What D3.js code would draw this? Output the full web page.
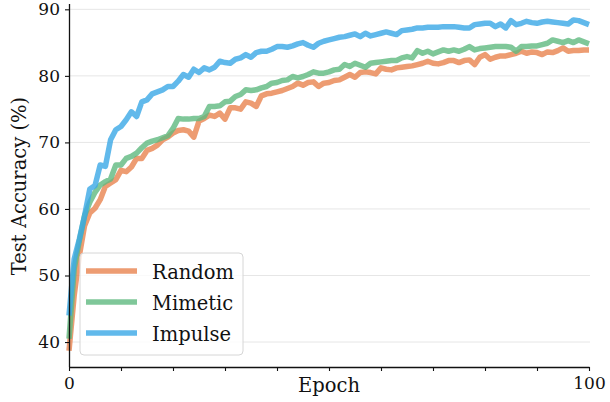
<!DOCTYPE html>
<html>
<head>
<meta charset="utf-8">
<script src="https://cdn.jsdelivr.net/npm/d3@7"></script>
<style>
  body { margin: 0; background: #fff; }
  text { font-family: "DejaVu Serif", serif; fill: #111; }
</style>
</head>
<body>
<svg></svg>
<script>
// accuracy per epoch (0..100)
var epochs = d3.range(0, 101);

var randomAcc = [
  38.7, 47.0, 53.0, 57.5, 59.4, 60.1, 61.4, 63.4, 63.9, 64.4,
  65.8, 65.6, 66.3, 67.6, 67.6, 68.8, 69.1, 69.6, 70.4, 70.8,
  71.4, 71.8, 71.9, 71.7, 70.8, 73.2, 73.6, 74.1, 73.9, 74.4,
  73.5, 75.2, 75.2, 75.0, 76.1, 75.9, 75.4, 77.0, 77.3, 77.4,
  77.6, 77.8, 78.1, 78.4, 78.9, 78.6, 79.0, 79.1, 78.4, 78.9,
  79.0, 79.3, 79.4, 79.8, 80.2, 79.8, 80.5, 80.6, 80.5, 80.3,
  81.2, 81.0, 80.9, 81.2, 81.3, 81.4, 81.5, 81.7, 81.9, 82.2,
  81.9, 81.8, 82.0, 82.3, 82.3, 82.0, 82.3, 82.4, 81.7, 82.8,
  83.2, 82.5, 82.8, 83.0, 83.0, 83.2, 83.4, 83.7, 83.4, 83.6,
  83.5, 83.2, 83.6, 83.5, 83.8, 84.2, 83.7, 83.8, 83.8, 83.9,
  83.9
];

var mimeticAcc = [
  40.5, 51.0, 55.3, 59.0, 61.0, 62.5, 63.6, 64.1, 64.5, 66.6,
  66.6, 67.6, 67.9, 68.4, 69.2, 69.9, 70.2, 70.4, 70.7, 71.0,
  72.1, 73.6, 73.5, 73.5, 73.6, 73.6, 73.9, 75.4, 75.4, 75.5,
  76.1, 76.2, 76.9, 77.2, 77.9, 77.8, 77.9, 78.2, 78.4, 78.9,
  79.0, 79.3, 79.4, 79.9, 79.7, 79.9, 80.2, 80.6, 80.4, 80.4,
  80.6, 80.9, 81.0, 81.7, 81.4, 81.9, 81.6, 81.3, 81.9, 82.0,
  82.1, 82.2, 82.3, 82.3, 82.7, 82.9, 82.7, 83.8, 83.4, 83.7,
  83.3, 83.6, 83.9, 83.7, 83.9, 83.7, 84.0, 84.4, 83.9, 84.1,
  84.2, 84.3, 84.4, 84.4, 84.4, 84.3, 83.7, 84.4, 84.4, 84.5,
  84.5, 84.7, 84.9, 85.4, 85.2, 85.0, 85.3, 85.0, 85.4, 85.1,
  84.8
];

var impulseAcc = [
  44.0, 52.5, 55.5, 59.0, 63.0, 63.5, 66.6, 66.4, 70.4, 71.9,
  72.4, 73.4, 74.6, 73.9, 76.1, 76.4, 77.3, 77.6, 77.9, 78.4,
  78.4, 79.2, 80.2, 79.8, 81.0, 80.5, 81.2, 80.9, 81.3, 82.2,
  82.0, 81.9, 82.5, 82.7, 83.2, 82.8, 83.5, 83.7, 83.7, 84.0,
  84.4, 84.4, 84.3, 84.5, 84.8, 85.0, 84.6, 84.3, 84.9, 85.2,
  85.4, 85.6, 85.8, 85.9, 86.1, 86.3, 85.9, 86.4, 86.0, 86.2,
  86.4, 86.6, 86.4, 86.2, 86.8, 86.9, 87.0, 87.2, 87.2, 87.3,
  87.3, 87.3, 87.4, 87.4, 87.4, 87.3, 87.2, 87.2, 87.7, 87.8,
  87.9, 87.9, 87.4, 87.8, 87.2, 88.3, 87.7, 87.9, 88.2, 88.0,
  87.9, 88.1, 88.2, 88.1, 88.0, 87.9, 87.8, 88.4, 88.3, 88.0,
  87.7
];

var seriesNames = ["Random", "Mimetic", "Impulse"];
var seriesColors = ["#e8834f", "#5fb97f", "#3aa8e6"];
var yTicks = [40, 50, 60, 70, 80, 90];
var xTicks = [0, 10, 20, 30, 40, 50, 60, 70, 80, 90, 100];
var xTickLabels = ["0", "", "", "", "", "", "", "", "", "", "100"];

var drawGraph = function(){
  var screen = { width: 610, height: 402 };
  var margins = { top: 4, bottom: 35, left: 69, right: 21 };

  var graphWidth = screen.width - margins.left - margins.right;
  var graphHeight = screen.height - margins.top - margins.bottom;

  var xScale = d3.scaleLinear()
                .domain([0, 100])
                .range([0, graphWidth]);

  var yScale = d3.scaleLinear()
                .domain([36.25, 90.8])
                .range([graphHeight, 0]);

  var svg = d3.select("svg")
            .attr("width", screen.width)
            .attr("height", screen.height);

  var plotLand = svg.append("g")
                    .attr("transform", "translate(" + margins.left + "," + margins.top + ")");

  // grid
  plotLand.append("g")
          .selectAll("line")
          .data(yTicks)
          .enter()
          .append("line")
          .attr("x1", 0)
          .attr("x2", graphWidth + 1)
          .attr("y1", function(d){ return yScale(d); })
          .attr("y2", function(d){ return yScale(d); })
          .attr("stroke", "#e6e6e6")
          .attr("stroke-width", 1);

  var lines = [randomAcc, mimeticAcc, impulseAcc];
  var line = d3.line()
               .x(function(d, i){ return xScale(epochs[i]); })
               .y(function(d){ return yScale(d); });

  plotLand.selectAll("path.series")
          .data(lines)
          .enter()
          .append("path")
          .classed("series", true)
          .attr("d", line)
          .attr("fill", "none")
          .attr("stroke", function(d, i){ return seriesColors[i]; })
          .attr("stroke-opacity", 0.8)
          .attr("stroke-width", 5.5)
          .attr("stroke-linejoin", "round");

  // axes
  var xAxis = d3.axisBottom(xScale)
                .tickValues(xTicks)
                .tickFormat(function(d, i){ return xTickLabels[i]; })
                .tickSizeInner(4)
                .tickSizeOuter(0)
                .tickPadding(6);

  var yAxis = d3.axisLeft(yScale)
                .tickValues(yTicks)
                .tickSizeInner(4)
                .tickSizeOuter(0)
                .tickPadding(5);

  var gx = plotLand.append("g")
          .attr("transform", "translate(0," + graphHeight + ")")
          .call(xAxis);

  var gy = plotLand.append("g")
          .call(yAxis);

  gy.select(".domain").attr("d", "M0.5," + (graphHeight) + "V0");

  [gx, gy].forEach(function(g){
    g.select(".domain").attr("stroke", "#111").attr("stroke-width", 1.3);
    g.selectAll(".tick line").attr("stroke", "#111").attr("stroke-width", 1.1);
    g.selectAll(".tick text")
     .style("font-family", "DejaVu Serif, serif")
     .style("font-size", "17px")
     .attr("fill", "#111");
  });

  svg.append("text")
     .attr("x", margins.left + xScale(50))
     .attr("y", 392)
     .attr("text-anchor", "middle")
     .style("font-size", "19.5px")
     .text("Epoch");

  svg.append("text")
     .attr("transform", "translate(26," + 186 + ") rotate(-90)")
     .attr("text-anchor", "middle")
     .style("font-size", "19.5px")
     .text("Test Accuracy (%)");

  // legend
  var legend = svg.append("g")
                  .attr("transform", "translate(80,253)");

  legend.append("rect")
        .attr("x", 0)
        .attr("y", 0)
        .attr("width", 163)
        .attr("height", 102)
        .attr("rx", 4)
        .attr("fill", "#fff")
        .attr("fill-opacity", 0.8)
        .attr("stroke", "#d6d6d6")
        .attr("stroke-width", 1);

  var legendLines = legend.selectAll("g")
                    .data(seriesNames)
                    .enter()
                    .append("g")
                    .attr("transform", function(d, i){
                      return "translate(0," + (18 + i * 31) + ")";
                    });

  legendLines.append("line")
             .attr("x1", 6)
             .attr("x2", 57)
             .attr("y1", 0)
             .attr("y2", 0)
             .attr("stroke", function(d, i){ return seriesColors[i]; })
             .attr("stroke-opacity", 0.8)
             .attr("stroke-width", 5.5);

  legendLines.append("text")
             .attr("x", 72)
             .attr("y", 8)
             .style("font-size", "19.5px")
             .text(function(d){ return d; });
};

drawGraph();
</script>
</body>
</html>
